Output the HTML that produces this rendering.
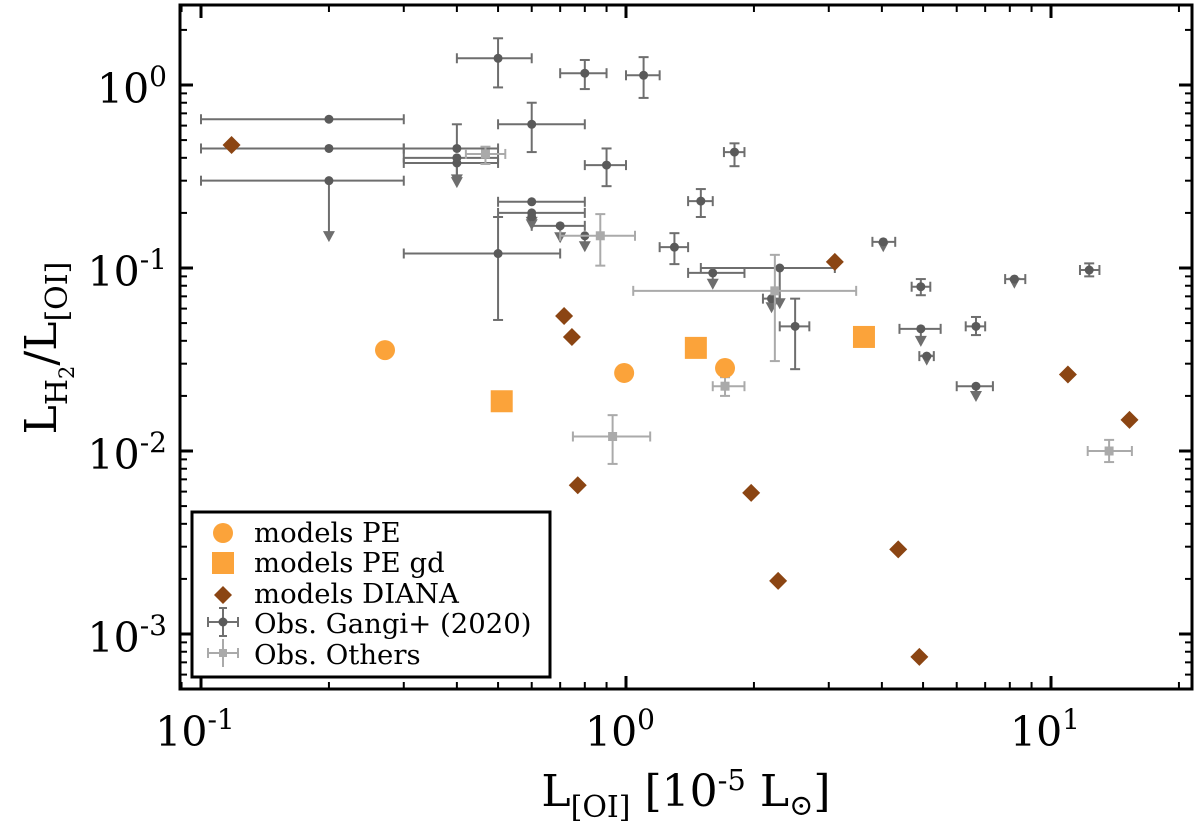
<!DOCTYPE html>
<html><head><meta charset="utf-8">
<style>
html,body{margin:0;padding:0;background:#fff;}
svg{display:block;font-family:"DejaVu Serif","Liberation Serif",serif;}
</style></head>
<body>
<svg id="chart" width="1200" height="824" viewBox="0 0 1200 824" xmlns="http://www.w3.org/2000/svg">
<g id="ticks"></g>
<g id="marks"></g>
<rect x="180" y="5" width="1012" height="684" fill="none" stroke="#000" stroke-width="3"/>
<g id="ticklabels" font-size="41" fill="#000"></g>
<text transform="translate(56,348) rotate(-90)" text-anchor="middle" font-size="44">L<tspan font-size="30" dy="11">H</tspan><tspan font-size="21" dy="7">2</tspan><tspan dy="-18">/L</tspan><tspan font-size="30" dy="11">[OI]</tspan></text>
<text x="686" y="806" text-anchor="middle" font-size="44">L<tspan font-size="30" dy="11">[OI]</tspan><tspan dy="-11"> [10</tspan><tspan font-size="29" dy="-16">-5</tspan><tspan dy="16"> L</tspan><tspan font-size="29" dy="9">⊙</tspan><tspan dy="-9">]</tspan></text>
<g id="legend">
<rect x="192" y="512" width="358" height="165" fill="#fff" stroke="#000" stroke-width="3"/>
<circle cx="223" cy="533" r="10" fill="#fba33a"/>
<text x="254" y="542" font-size="27.5">models PE</text>
<rect x="212" y="552" width="22" height="22" fill="#fba33a"/>
<text x="254" y="572" font-size="27.5">models PE gd</text>
<polygon points="223,586 232,595 223,604 214,595" fill="#8b4513"/>
<text x="254" y="603" font-size="27.5">models DIANA</text>
<g stroke="#707070" stroke-width="2">
<line x1="208" y1="622" x2="238" y2="622"/><line x1="223" y1="608" x2="223" y2="636"/>
<line x1="208" y1="617" x2="208" y2="627"/><line x1="238" y1="617" x2="238" y2="627"/>
<line x1="219" y1="608" x2="227" y2="608"/><line x1="219" y1="636" x2="227" y2="636"/>
<circle cx="223" cy="622" r="4.5" fill="#5a5a5a" stroke="none"/></g>
<text x="254" y="633" font-size="27.5">Obs. Gangi+ (2020)</text>
<g stroke="#aaaaaa" stroke-width="2">
<line x1="208" y1="653" x2="238" y2="653"/><line x1="223" y1="639" x2="223" y2="667"/>
<line x1="208" y1="648" x2="208" y2="658"/><line x1="238" y1="648" x2="238" y2="658"/>
<rect x="219" y="649" width="8" height="8" fill="#aaaaaa" stroke="none"/></g>
<text x="254" y="664" font-size="27.5">Obs. Others</text>
</g>
</svg>
<script>
// ---- data ----
const peX = [0.271, 0.99, 1.71];
const peY = [0.0356, 0.0267, 0.0284];
const pegdX = [0.51, 1.46, 3.63];
const pegdY = [0.0187, 0.0366, 0.042];
const dianaX = [0.118, 0.715, 0.746, 0.77, 1.97, 2.28, 3.1, 4.37, 4.9, 10.96, 15.3];
const dianaY = [0.47, 0.0547, 0.042, 0.0065, 0.0059, 0.00195, 0.108, 0.0029, 0.00075, 0.0262, 0.0148];
const gangiX   = [0.5, 0.8, 1.10, 0.6, 0.2, 0.2, 0.2, 0.4, 0.4, 0.4, 0.6, 0.6, 0.6, 0.7, 0.8, 0.5, 0.9, 1.8, 1.5, 1.3, 1.6, 2.3, 2.2, 2.5, 4.03, 4.94, 4.94, 5.1, 6.66, 6.66, 8.2, 12.3];
const gangiY   = [1.40, 1.16, 1.13, 0.61, 0.65, 0.45, 0.30, 0.45, 0.40, 0.375, 0.23, 0.20, 0.19, 0.17, 0.15, 0.12, 0.365, 0.43, 0.232, 0.13, 0.094, 0.1, 0.068, 0.048, 0.139, 0.079, 0.0465, 0.033, 0.048, 0.0226, 0.087, 0.0975];
const gangiXlo = [0.40, 0.70, 1.0, 0.5, 0.1, 0.1, 0.1, 0.3, 0.3, 0.3, 0.5, 0.5, 0.6, 0.6, 0.8, 0.3, 0.8, 1.7, 1.4, 1.2, 1.4, 1.5, 2.1, 2.3, 3.8, 4.7, 4.4, 4.9, 6.3, 6.0, 7.8, 11.7];
const gangiXhi = [0.60, 0.90, 1.2, 0.8, 0.3, 0.3, 0.3, 0.5, 0.5, 0.5, 0.8, 0.8, 0.6, 0.8, 0.8, 0.7, 1.0, 1.9, 1.6, 1.4, 1.9, 3.1, 2.3, 2.7, 4.3, 5.2, 5.5, 5.3, 7.0, 7.3, 8.7, 13.0];
const gangiYlo = [0.97, 0.95, 0.85, 0.43, 0.65, 0.45, 0.142, 0.45, 0.29, 0.28, 0.23, 0.17, 0.165, 0.14, 0.125, 0.052, 0.28, 0.36, 0.19, 0.105, 0.078, 0.061, 0.058, 0.028, 0.125, 0.071, 0.038, 0.03, 0.043, 0.019, 0.079, 0.09];
const gangiYhi = [1.8, 1.37, 1.42, 0.80, 0.65, 0.45, 0.30, 0.61, 0.40, 0.375, 0.23, 0.20, 0.19, 0.17, 0.15, 0.19, 0.45, 0.48, 0.27, 0.155, 0.094, 0.1, 0.068, 0.068, 0.139, 0.087, 0.0465, 0.033, 0.054, 0.0226, 0.087, 0.106];
const gangiUL  = [0,0,0,0,0,0,1,0,1,1,0,1,1,1,1,0,0,0,0,0,1,1,1,0,1,0,1,1,0,1,1,0];
const othX   = [0.467, 0.87, 2.24, 1.71, 0.93, 13.7];
const othY   = [0.42, 0.15, 0.075, 0.0226, 0.012, 0.01];
const othXlo = [0.42, 0.70, 1.04, 1.6, 0.75, 12.2];
const othXhi = [0.52, 1.05, 3.48, 1.9, 1.14, 15.5];
const othYlo = [0.37, 0.103, 0.031, 0.0200, 0.0085, 0.0087];
const othYhi = [0.46, 0.197, 0.118, 0.0253, 0.0157, 0.0115];
const xTickExp = [-1, 0, 1];
const yTickExp = [0, -1, -2, -3];

// ---- axes ----
const NS = "http://www.w3.org/2000/svg";
function sx(v){ return 626 + 425 * Math.log10(v); }
function sy(v){ return 85 - 183 * Math.log10(v); }
function el(tag, attrs, parent){ const e=document.createElementNS(NS,tag); for(const k in attrs) e.setAttribute(k,attrs[k]); parent.appendChild(e); return e; }
const ticks=document.getElementById('ticks'), marks=document.getElementById('marks'), tl=document.getElementById('ticklabels');

for(let d=-2; d<=1; d++){ for(let m=1; m<=9; m++){
  const px=sx(m*Math.pow(10,d)); if(px<181||px>1191) continue;
  const L = m===1?13:7, w = m===1?3:2;
  const t1=el('line',{x1:px,x2:px,y1:689,y2:689-L,stroke:'#000','stroke-width':w},ticks);
  
  
  const t2=el('line',{x1:px,x2:px,y1:5,y2:5+L,stroke:'#000','stroke-width':w},ticks);
  
  
}}
for(let d=-4; d<=0; d++){ for(let m=1; m<=9; m++){
  const py=sy(m*Math.pow(10,d)); if(py<6||py>688) continue;
  const L = m===1?13:7, w = m===1?3:2;
  const t1=el('line',{x1:180,x2:180+L,y1:py,y2:py,stroke:'#000','stroke-width':w},ticks);
  
  
  const t2=el('line',{x1:1192,x2:1192-L,y1:py,y2:py,stroke:'#000','stroke-width':w},ticks);
  
  
}}
xTickExp.forEach(e=>{
  const t=el('text',{x:sx(Math.pow(10,e))-6,y:746,'text-anchor':'middle'},tl);
  
  
  t.innerHTML='10<tspan font-size="28" dy="-17">'+e+'</tspan>';
});
yTickExp.forEach(e=>{
  const t=el('text',{x:167,y:sy(Math.pow(10,e))+18,'text-anchor':'end'},tl);
  
  
  t.innerHTML='10<tspan font-size="28" dy="-17">'+e+'</tspan>';
});

function errbar(x,y,xlo,xhi,ylo,yhi,ul,col,name){
  const g=el('g',{stroke:col,'stroke-width':2,fill:col},marks);
  
  
  const X=sx(x),Y=sy(y),X0=sx(xlo),X1=sx(xhi);
  if(X1-X0>1){ el('line',{x1:X0,x2:X1,y1:Y,y2:Y},g);
    el('line',{x1:X0,x2:X0,y1:Y-5,y2:Y+5},g); el('line',{x1:X1,x2:X1,y1:Y-5,y2:Y+5},g); }
  if(ul){ const Ya=sy(ylo); el('line',{x1:X,x2:X,y1:Y,y2:Ya},g);
    el('polygon',{points:(X-6)+','+(Ya-9)+' '+(X+6)+','+(Ya-9)+' '+X+','+(Ya+2),stroke:'none'},g);
  } else { const Y0=sy(yhi),Y1=sy(ylo); if(Y1-Y0>1){ el('line',{x1:X,x2:X,y1:Y0,y2:Y1},g);
    el('line',{x1:X-5,x2:X+5,y1:Y0,y2:Y0},g); el('line',{x1:X-5,x2:X+5,y1:Y1,y2:Y1},g);} }
  return g;
}
gangiX.forEach((x,i)=>{
  const g=errbar(x,gangiY[i],gangiXlo[i],gangiXhi[i],gangiYlo[i],gangiYhi[i],gangiUL[i],'#6e6e6e','gangi-errorbar');
  const c=el('circle',{cx:sx(x),cy:sy(gangiY[i]),r:4.5,fill:'#5a5a5a',stroke:'none'},g);
  
  
});
othX.forEach((x,i)=>{
  const g=errbar(x,othY[i],othXlo[i],othXhi[i],othYlo[i],othYhi[i],0,'#aaaaaa','others-errorbar');
  const r=el('rect',{x:sx(x)-4.5,y:sy(othY[i])-4.5,width:9,height:9,fill:'#aaaaaa',stroke:'none'},g);
  
  
});
peX.forEach((x,i)=>{
  const c=el('circle',{cx:sx(x),cy:sy(peY[i]),r:10,fill:'#fba33a'},marks);
  
  
});
pegdX.forEach((x,i)=>{
  const r=el('rect',{x:sx(x)-11,y:sy(pegdY[i])-11,width:22,height:22,fill:'#fba33a'},marks);
  
  
});
dianaX.forEach((x,i)=>{
  const X=sx(x),Y=sy(dianaY[i]);
  const p=el('polygon',{points:X+','+(Y-9)+' '+(X+9)+','+Y+' '+X+','+(Y+9)+' '+(X-9)+','+Y,fill:'#8b4513'},marks);
  
  
});
</script>
</body></html>
